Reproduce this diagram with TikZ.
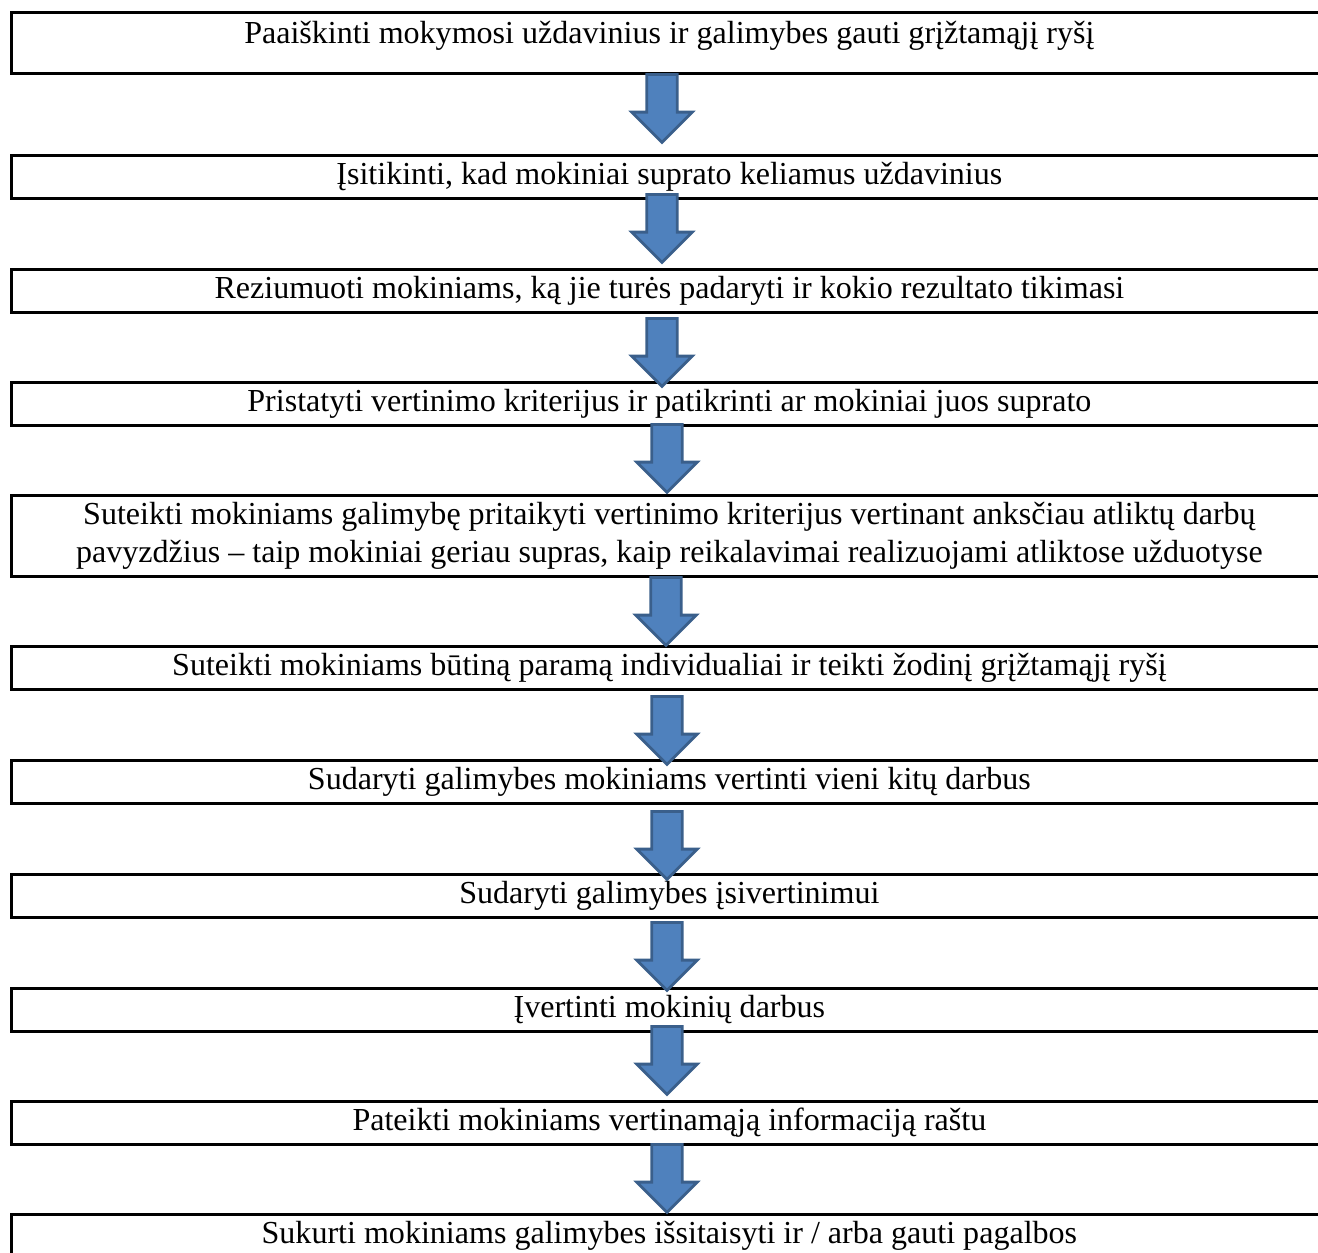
\documentclass[tikz,border=0pt]{standalone}
\usepackage{fontspec}
\setmainfont{Liberation Serif}
\usetikzlibrary{shapes.arrows}
\definecolor{rodmelyna}{HTML}{4F81BD}
\definecolor{rodkrastas}{HTML}{3A5F8B}

\begin{document}
\begin{tikzpicture}[x=0.39pt,y=-0.39pt,
  langas/.style={draw,line width=1.1pt,anchor=north west,minimum width=513.2pt,
    minimum height=16.8pt,inner sep=0pt,align=center,font=\fontsize{12.5}{14.6}\selectfont},
  rodykle/.style={single arrow,draw=rodkrastas,fill=rodmelyna,line width=1.1pt,
    shape border rotate=270,minimum height=26.5pt,
    single arrow head extend=5.85pt,inner sep=5.4pt,anchor=tail}]
\useasboundingbox (0,0) rectangle (1318,1252);
\clip (0,0) rectangle (1318,1252);

% langeliai
\node[langas,minimum height=23.8pt,text depth=8pt] (b1) at (10,11) {Paaiškinti mokymosi uždavinius ir galimybes gauti grįžtamąjį ryšį};
\node[langas] (b2) at (10,154) {Įsitikinti, kad mokiniai suprato keliamus uždavinius};
\node[langas] (b3) at (10,268) {Reziumuoti mokiniams, ką jie turės padaryti ir kokio rezultato tikimasi};
\node[langas] (b4) at (10,381) {Pristatyti vertinimo kriterijus ir patikrinti ar mokiniai juos suprato};
\node[langas,minimum height=31.6pt] (b5) at (10,494) {Suteikti mokiniams galimybę pritaikyti vertinimo kriterijus vertinant anksčiau atliktų darbų\\pavyzdžius – taip mokiniai geriau supras, kaip reikalavimai realizuojami atliktose užduotyse};
\node[langas] (b6) at (10,645) {Suteikti mokiniams būtiną paramą individualiai ir teikti žodinį grįžtamąjį ryšį};
\node[langas] (b7) at (10,759) {Sudaryti galimybes mokiniams vertinti vieni kitų darbus};
\node[langas] (b8) at (10,873) {Sudaryti galimybes įsivertinimui};
\node[langas] (b9) at (10,987) {Įvertinti mokinių darbus};
\node[langas] (b10) at (10,1100) {Pateikti mokiniams vertinamąją informaciją raštu};
\node[langas] (b11) at (10,1213) {Sukurti mokiniams galimybes išsitaisyti ir / arba gauti pagalbos};

% rodyklės
\node[rodykle] (r1) at (662,73) {};
\node[rodykle] (r2) at (662,193) {};
\node[rodykle] (r3) at (662,317) {};
\node[rodykle] (r4) at (667,423) {};
\node[rodykle] (r5) at (666,576) {};
\node[rodykle] (r6) at (667,695) {};
\node[rodykle] (r7) at (667,810) {};
\node[rodykle] (r8) at (667,921) {};
\node[rodykle] (r9) at (667,1025) {};
\node[rodykle] (r10) at (667,1143) {};
\end{tikzpicture}
\end{document}
